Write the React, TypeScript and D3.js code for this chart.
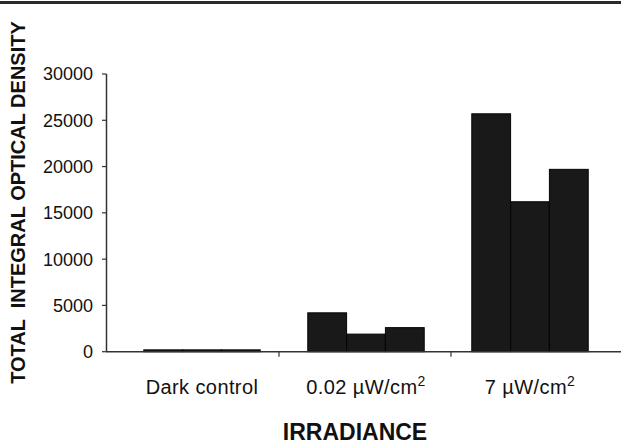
import React from "react";
import * as d3 from "d3";

const categories = ["Dark control", "0.02 µW/cm", "7 µW/cm"];
const superscripts = ["", "2", "2"];
const replicates = ["r1", "r2", "r3"];
const values: number[][] = [
  [200, 200, 200],
  [4200, 1900, 2600],
  [25700, 16200, 19700],
];
const yTicks = [0, 5000, 10000, 15000, 20000, 25000, 30000];

const W = 621;
const H = 444;
const FONT = "'Liberation Sans', Arial, Helvetica, sans-serif";

export default function App() {
  const y = d3.scaleLinear().domain([0, 30000]).range([351.7, 74]);
  const xAxis = d3.scaleBand<string>().domain(categories).range([107, 623]);
  const xGroup = d3.scaleBand<string>().domain(categories).range([120, 612]).paddingInner(0.29).paddingOuter(0.145);
  const xSub = d3.scaleBand<string>().domain(replicates).range([0, xGroup.bandwidth()]);
  const y0 = y(0);

  return (
    <svg width={W} height={H} style={{ position: "absolute", left: 0, top: 0, background: "#fff" }}>
      <rect x={0} y={0} width={W} height={H} fill="#fff" />
      {/* top rule */}
      <rect x={0} y={1} width={W} height={3} fill="#2a2a2a" />

      {/* bars */}
      {categories.map((c, i) =>
        values[i].map((v, j) => (
          <rect
            key={c + j}
            x={(xGroup(c) as number) + (xSub(replicates[j]) as number)}
            y={y(v)}
            width={xSub.bandwidth()}
            height={y0 - y(v)}
            fill="#191919"
            stroke="#050505"
            strokeWidth={1}
          />
        ))
      )}

      {/* y axis */}
      <line x1={106.5} x2={106.5} y1={y(30000)} y2={y0} stroke="#333" strokeWidth={1.5} />
      {yTicks.map((t) => (
        <g key={t}>
          <line x1={102} x2={106.5} y1={y(t)} y2={y(t)} stroke="#333" strokeWidth={1.2} />
          <text
            x={93}
            y={y(t)}
            dy="0.36em"
            textAnchor="end"
            fontFamily={FONT}
            fontSize={18}
            fill="#111"
          >
            {t}
          </text>
        </g>
      ))}

      {/* x axis */}
      <line x1={106} x2={W} y1={y0} y2={y0} stroke="#333" strokeWidth={1.5} />
      {categories.map((c) => (
        <line
          key={"t" + c}
          x1={(xAxis(c) as number) + xAxis.bandwidth()}
          x2={(xAxis(c) as number) + xAxis.bandwidth()}
          y1={y0}
          y2={y0 + 5}
          stroke="#333"
          strokeWidth={1.2}
        />
      ))}
      {categories.map((c, i) => (
        <text
          key={"l" + c}
          x={(xGroup(c) as number) + xGroup.bandwidth() / 2}
          y={394}
          textAnchor="middle"
          fontFamily={FONT}
          fontSize={20}
          letterSpacing={0.4}
          fill="#111"
        >
          {c}
          {superscripts[i] ? (
            <tspan fontSize={14} dy={-8}>
              {superscripts[i]}
            </tspan>
          ) : null}
        </text>
      ))}

      {/* axis titles */}
      <text
        x={355}
        y={440}
        textAnchor="middle"
        fontFamily={FONT}
        fontSize={23}
        fontWeight="bold"
        fill="#111"
      >
        IRRADIANCE
      </text>
      <text
        transform="translate(25,202.5) rotate(-90)"
        textAnchor="middle"
        fontFamily={FONT}
        fontSize={20}
        fontWeight="bold"
        fill="#111"
        style={{ whiteSpace: "pre" }}
      >
        {"TOTAL  INTEGRAL OPTICAL DENSITY"}
      </text>
    </svg>
  );
}
